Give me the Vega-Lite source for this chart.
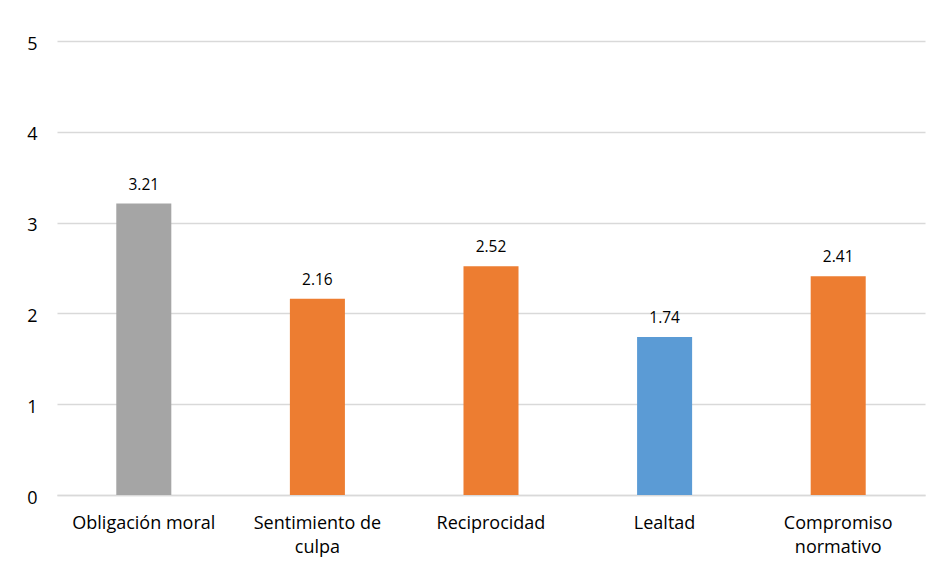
{
  "$schema": "https://vega.github.io/schema/vega-lite/v6.json",
  "width": 868,
  "height": 454,
  "autosize": {"type": "none"},
  "padding": {"left": 57, "top": 41, "right": 16, "bottom": 77},
  "background": "white",
  "config": {"view": {"stroke": null}, "font": "Open Sans"},
  "data": {"values": [
    {"factor": "Obligación moral", "media": 3.21},
    {"factor": "Sentimiento de culpa", "media": 2.16},
    {"factor": "Reciprocidad", "media": 2.52},
    {"factor": "Lealtad", "media": 1.74},
    {"factor": "Compromiso normativo", "media": 2.41}
  ]},
  "encoding": {
    "x": {
      "field": "factor", "type": "nominal", "sort": null,
      "scale": {"paddingInner": 0.683, "paddingOuter": 0.3415},
      "axis": {
        "title": null, "labelAngle": 0, "ticks": false, "domain": true,
        "domainColor": "#D9D9D9", "domainWidth": 1.5,
        "labelFont": "Open Sans", "labelFontSize": 18, "labelColor": "#000000",
        "labelPadding": 19, "labelBaseline": "top", "labelLineHeight": 24,
        "labelExpr": "datum.label == 'Sentimiento de culpa' ? ['Sentimiento de', 'culpa'] : datum.label == 'Compromiso normativo' ? ['Compromiso', 'normativo'] : datum.label"
      }
    },
    "y": {
      "field": "media", "type": "quantitative",
      "scale": {"domain": [0, 5], "nice": false},
      "axis": {
        "title": null, "values": [0, 1, 2, 3, 4, 5], "ticks": false, "domain": false,
        "grid": true, "gridColor": "#D9D9D9", "gridWidth": 1.5,
        "labelFont": "Open Sans", "labelFontSize": 18, "labelColor": "#000000",
        "labelPadding": 20, "labelOffset": 3
      }
    }
  },
  "layer": [
    {
      "mark": {"type": "bar"},
      "encoding": {
        "color": {
          "field": "factor", "type": "nominal", "legend": null,
          "scale": {
            "domain": ["Obligación moral", "Sentimiento de culpa", "Reciprocidad", "Lealtad", "Compromiso normativo"],
            "range": ["#A5A5A5", "#ED7D31", "#ED7D31", "#5B9BD5", "#ED7D31"]
          }
        }
      }
    },
    {
      "mark": {"type": "text", "dy": -19, "fontSize": 15.5, "font": "Open Sans", "color": "#000000"},
      "encoding": {
        "text": {"field": "media", "type": "quantitative", "format": ".2f"}
      }
    }
  ]
}
